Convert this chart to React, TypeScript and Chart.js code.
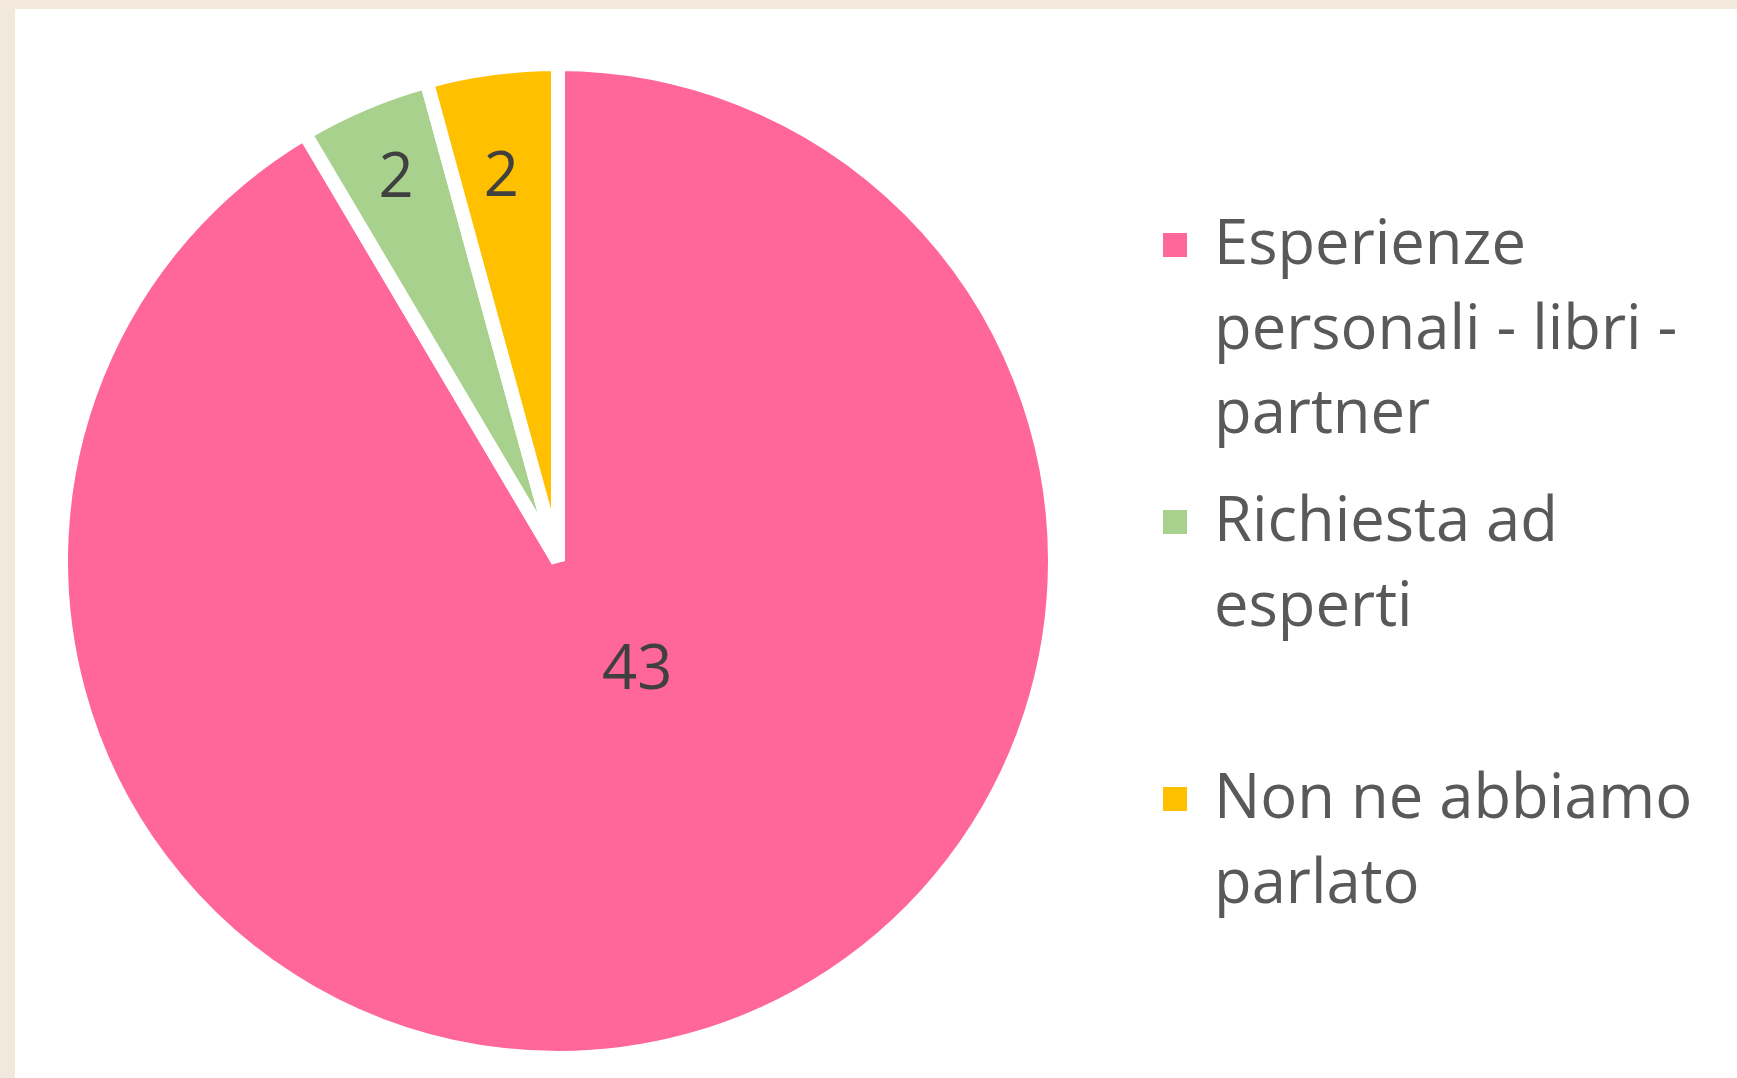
import React, { useEffect, useRef } from "react";
import { Chart, registerables } from "chart.js";

Chart.register(...registerables);

const categories: string[] = [
  "Esperienze personali - libri - partner",
  "Richiesta ad esperti",
  "Non ne abbiamo parlato",
];
const legendLines: string[][] = [
  ["Esperienze", "personali - libri -", "partner"],
  ["Richiesta ad", "esperti"],
  ["Non ne abbiamo", "parlato"],
];
const values: number[] = [43, 2, 2];
const colors: string[] = ["#FF6699", "#A9D18E", "#FFC000"];
// where inside each slice the value label sits (fraction of slice angle, fraction of radius)
const labelAngleFrac: number[] = [0.438, 0.5, 0.45];
const labelRadiusFrac: number[] = [0.273, 0.834, 0.778];

const FONT = '"Open Sans", Lato, sans-serif';

const valueLabels = {
  id: "valueLabels",
  afterDatasetsDraw(chart: any) {
    const ctx = chart.ctx;
    const meta = chart.getDatasetMeta(0);
    ctx.save();
    ctx.font = `61.5px ${FONT}`;
    ctx.fillStyle = "#404040";
    ctx.textAlign = "center";
    ctx.textBaseline = "middle";
    meta.data.forEach((arc: any, i: number) => {
      const p = arc.getProps(["x", "y", "startAngle", "endAngle", "outerRadius"], true);
      const a = p.startAngle + labelAngleFrac[i] * (p.endAngle - p.startAngle);
      const r = labelRadiusFrac[i] * p.outerRadius;
      ctx.fillText(String(values[i]), p.x + Math.cos(a) * r, p.y + Math.sin(a) * r);
    });
    ctx.restore();
  },
};

export default function App() {
  const ref = useRef<HTMLCanvasElement>(null);
  useEffect(() => {
    document.body.style.margin = "0";
    const chart = new Chart(ref.current as HTMLCanvasElement, {
      type: "pie",
      data: {
        labels: categories,
        datasets: [
          {
            data: values,
            backgroundColor: colors,
            borderColor: "#FFFFFF",
            borderWidth: 14,
          },
        ],
      },
      options: {
        responsive: false,
        animation: false,
        devicePixelRatio: 1,
        layout: { padding: 0 },
        plugins: { legend: { display: false }, tooltip: { enabled: false } },
      },
      plugins: [valueLabels],
    });
    return () => chart.destroy();
  }, []);

  return (
    <div
      style={{
        position: "fixed",
        left: 0,
        top: 0,
        width: 1737,
        height: 1078,
        background: "#F2E9DC",
        overflow: "hidden",
      }}
    >
      <div
        style={{
          position: "absolute",
          left: 15,
          top: 9,
          width: 1722,
          height: 1069,
          background: "#FFFFFF",
        }}
      />
      <canvas
        ref={ref}
        width={1008}
        height={1008}
        style={{ position: "absolute", left: 54, top: 57, width: 1008, height: 1008 }}
      />
      <div
        style={{
          position: "absolute",
          left: 1163,
          top: 198,
          display: "flex",
          flexDirection: "column",
          fontFamily: FONT,
          fontSize: 61.5,
          lineHeight: "84.5px",
          color: "#595959",
        }}
      >
        {legendLines.map((lines, i) => (
          <div key={i} style={{ height: 277, position: "relative", paddingLeft: 51 }}>
            <div
              style={{
                position: "absolute",
                left: 0,
                top: 35,
                width: 24,
                height: 24,
                background: colors[i],
              }}
            />
            {lines.map((l, j) => (
              <div key={j} style={{ whiteSpace: "nowrap" }}>
                {l}
              </div>
            ))}
          </div>
        ))}
      </div>
    </div>
  );
}
